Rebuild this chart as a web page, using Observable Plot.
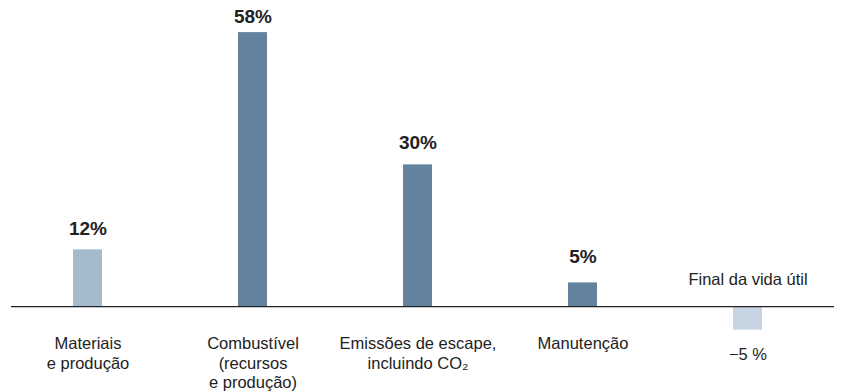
<!DOCTYPE html>
<html>
<head>
<meta charset="utf-8">
<script src="https://cdn.jsdelivr.net/npm/d3@7"></script>
<script src="https://cdn.jsdelivr.net/npm/@observablehq/plot@0.6"></script>
<style>
  html, body { margin: 0; padding: 0; background: #fff; }
  #chart svg { display: block; }
</style>
</head>
<body>
<div id="chart"></div>
<script>
// Data
const categories = [
  "Materiais\ne produção",
  "Combustível\n(recursos\ne produção)",
  "Emissões de escape,\nincluindo CO₂",
  "Manutenção",
  "Final da vida útil"
];
const values = [12, 58, 30, 5, -5];
const valueLabels = ["12%", "58%", "30%", "5%", "−5 %"];
const phases = ["produção", "uso", "uso", "uso", "fim"];

const data = categories.map((c, i) => ({
  category: c, value: values[i], label: valueLabels[i], phase: phases[i], i
}));

// presentation
const labelDy = {0: -15, 1: -10, 2: -16, 3: -20};
const font = "'Liberation Sans', Arial, Helvetica, sans-serif";
const ink = "#222";

const positives = data.filter(d => d.value >= 0);
const negatives = data.filter(d => d.value < 0);

const valueMarks = positives.map(d =>
  Plot.text([d], {
    x: "category", y: "value", text: "label",
    lineAnchor: "bottom", dy: labelDy[d.i],
    fontSize: 19, fontWeight: "bold", fill: ink
  })
);

const chart = Plot.plot({
  width: 841,
  height: 392,
  marginLeft: 11,
  marginRight: 7,
  marginTop: 0,
  marginBottom: 0,
  style: { fontFamily: font, background: "#fff", overflow: "visible" },
  x: {
    domain: categories, paddingInner: 0.8242, paddingOuter: 0.406, align: 0.459, axis: null
  },
  y: { domain: [-18.2, 64.8], axis: null },
  color: { domain: ["produção", "uso", "fim"], range: ["#a6bace", "#62829e", "#c6d4e2"] },
  marks: [
    Plot.barY(data, { x: "category", y: "value", fill: "phase" }),
    Plot.ruleY([0], { stroke: ink, strokeWidth: 1.2 }),
    ...valueMarks,
    // negative value label below bar
    Plot.text(negatives, {
      x: "category", y: "value", text: "label",
      lineAnchor: "top", dy: 18, fontSize: 16.5, fill: ink
    }),
    // category labels below baseline (positives)
    Plot.text(positives, {
      x: "category", y: () => 0, text: "category",
      lineAnchor: "top", dy: 29, fontSize: 16.5, lineHeight: 1.17, fill: ink
    }),
    // category label above baseline (negative)
    Plot.text(negatives, {
      x: "category", y: () => 0, text: "category",
      lineAnchor: "bottom", dy: -22, fontSize: 16.5, fill: ink
    })
  ]
});

document.getElementById("chart").appendChild(chart);
</script>
</body>
</html>
